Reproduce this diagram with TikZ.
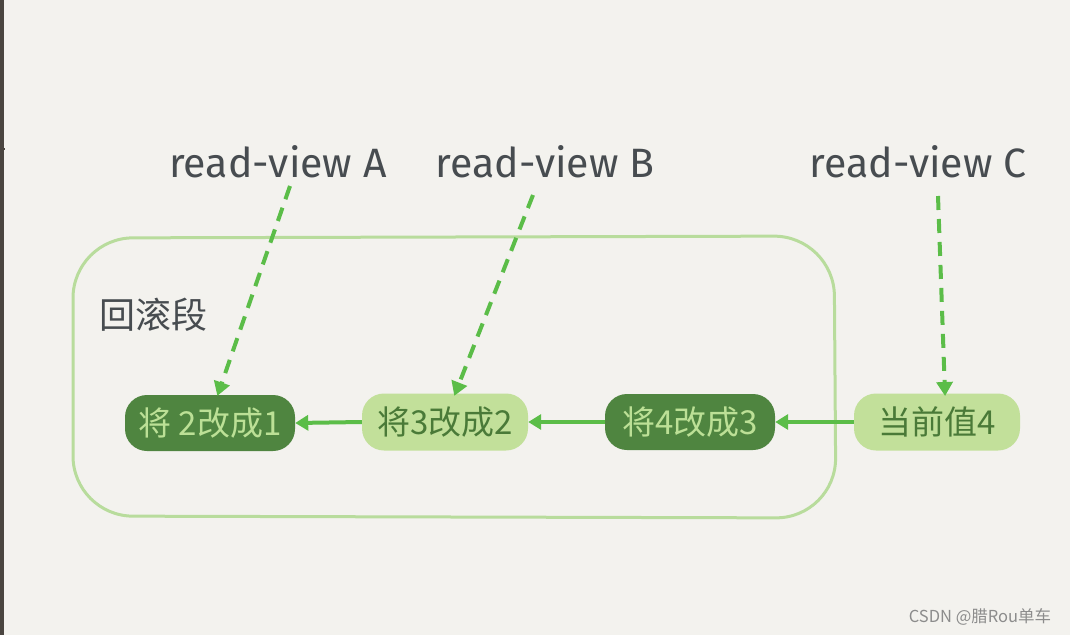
\documentclass[tikz,border=0pt]{standalone}
\usepackage{fontspec}
\setmainfont{Fira Sans}
\newfontfamily\cjk{Noto Sans CJK SC}
\usetikzlibrary{arrows.meta}
\definecolor{bg}{HTML}{F3F2EE}
\definecolor{darkg}{HTML}{4F8540}
\definecolor{lightg}{HTML}{C2E09A}
\definecolor{ltext}{HTML}{BCE096}
\definecolor{dtext}{HTML}{4A7A38}
\definecolor{arrowg}{HTML}{5BBD48}
\definecolor{frameg}{HTML}{B8DC9C}
\definecolor{labelc}{HTML}{474C50}
\definecolor{edge}{HTML}{4A4540}
\tikzset{
  darkbox/.style={fill=darkg, text=ltext, rounded corners=22pt, minimum width=170pt, minimum height=56pt, inner sep=0pt, font=\cjk\fontsize{33}{36}\selectfont},
  lightbox/.style={fill=lightg, text=dtext, rounded corners=22pt, minimum width=166pt, minimum height=57pt, inner sep=0pt, font=\cjk\fontsize{33}{36}\selectfont},
  rvlabel/.style={text=labelc, font=\fontsize{41}{44}\selectfont, inner sep=0pt},
  link/.style={draw=arrowg, line width=4pt, -{Triangle[length=13pt,width=15pt]}},
  dlink/.style={draw=arrowg, line width=4pt, dash pattern=on 14pt off 9pt, -{Triangle[length=14pt,width=16pt]}, shorten >=-2pt},
}
\begin{document}
\begin{tikzpicture}[x=1pt,y=-1pt]
\useasboundingbox (0,0) rectangle (1070,635);
\fill[bg] (0,0) rectangle (1070,635);
\fill[edge] (0,0) rectangle (3.5,635);
\draw[edge, line width=1.5pt] (0,149) -- (5,149);
% container
\draw[frameg, line width=3pt, rounded corners=60pt] (73,238) -- (834,236) -- (836,518) -- (73,516) -- cycle;
\node[text=labelc, inner sep=0pt, font=\cjk\fontsize{36}{38}\selectfont] (seg) at (153,315) {回滚段};
% boxes
\node[darkbox] (n1) at (210,423) {将 2改成1};
\node[lightbox] (n2) at (445,422) {将3改成2};
\node[darkbox] (n3) at (690,422) {将4改成3};
\node[lightbox] (n4) at (937,422) {当前值4};
% arrows
\draw[link] (n2.west) -- (n1.east);
\draw[link] (n3.west) -- (n2.east);
\draw[link] (n4.west) -- (n3.east);
% labels
\node[rvlabel] (ra) at (278,162) {read-view A};
\node[rvlabel] (rb) at (545,162) {read-view B};
\node[rvlabel] (rc) at (918,162) {read-view C};
\coordinate (ta) at (218,394);
\coordinate (tb) at (455,394);
\coordinate (tc) at (945,394);
\draw[dlink] (290,186) -- (ta);
\draw[dlink] (533,195) -- (tb);
\draw[dlink] (938,196) -- (tc);
% watermark
\node[text=gray!90, inner sep=0pt, font=\cjk\fontsize{16.5}{18}\selectfont] (wm) at (980,617) {CSDN @腊Rou单车};
\end{tikzpicture}
\end{document}
